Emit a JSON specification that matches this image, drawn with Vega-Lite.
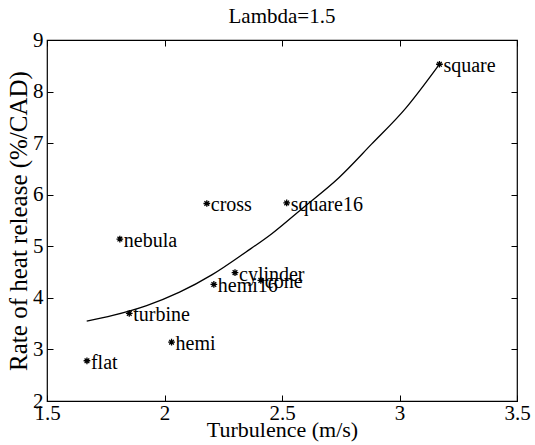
{
  "$schema": "https://vega.github.io/schema/vega-lite/v6.json",
  "autosize": "none",
  "padding": {"left": 47, "top": 40, "right": 18, "bottom": 44},
  "width": 470,
  "height": 361,
  "background": "white",
  "title": {"text": "Lambda=1.5", "font": "Liberation Serif", "fontSize": 21, "fontWeight": "normal", "color": "black", "offset": 2},
  "config": {
    "view": {"stroke": "black", "strokeWidth": 1.2},
    "axis": {"labelFont": "Liberation Serif", "titleFont": "Liberation Serif", "labelColor": "black", "titleColor": "black", "titleFontWeight": "normal", "domain": false, "grid": false, "tickColor": "black", "tickWidth": 1, "tickSize": -6, "labelFontSize": 21}
  },
  "datasets": {
    "pts": [
      {"name": "flat", "turb": 1.67, "rhr": 2.78},
      {"name": "turbine", "turb": 1.85, "rhr": 3.70},
      {"name": "hemi", "turb": 2.03, "rhr": 3.14},
      {"name": "nebula", "turb": 1.81, "rhr": 5.14},
      {"name": "cross", "turb": 2.18, "rhr": 5.83},
      {"name": "square16", "turb": 2.52, "rhr": 5.84},
      {"name": "hemi16", "turb": 2.21, "rhr": 4.26},
      {"name": "cylinder", "turb": 2.30, "rhr": 4.49},
      {"name": "cone", "turb": 2.41, "rhr": 4.34},
      {"name": "square", "turb": 3.17, "rhr": 8.53}
    ],
    "fit": [
      {"turb": 1.669, "rhr": 3.55},
      {"turb": 1.780, "rhr": 3.66},
      {"turb": 1.924, "rhr": 3.85},
      {"turb": 2.064, "rhr": 4.11},
      {"turb": 2.203, "rhr": 4.45},
      {"turb": 2.347, "rhr": 4.89},
      {"turb": 2.458, "rhr": 5.25},
      {"turb": 2.585, "rhr": 5.73},
      {"turb": 2.742, "rhr": 6.33},
      {"turb": 2.881, "rhr": 6.98},
      {"turb": 3.025, "rhr": 7.67},
      {"turb": 3.165, "rhr": 8.50}
    ]
  },
  "layer": [
    {
      "data": {"name": "fit"},
      "mark": {"type": "line", "color": "black", "strokeWidth": 1.3, "interpolate": "monotone"},
      "encoding": {
        "x": {"field": "turb", "type": "quantitative", "scale": {"domain": [1.5, 3.5], "nice": false, "zero": false},
              "axis": {"orient": "top", "labels": false, "title": null, "values": [1.5, 2, 2.5, 3, 3.5]}},
        "y": {"field": "rhr", "type": "quantitative", "scale": {"domain": [2, 9], "nice": false, "zero": false},
              "axis": {"orient": "right", "labels": false, "title": null, "values": [2, 3, 4, 5, 6, 7, 8, 9]}}
      }
    },
    {
      "data": {"name": "pts"},
      "mark": {"type": "point", "shape": "M-1,0L1,0M0,-1L0,1M-0.7,-0.7L0.7,0.7M-0.7,0.7L0.7,-0.7", "size": 45, "stroke": "black", "strokeWidth": 1.3, "filled": false, "opacity": 1},
      "encoding": {
        "x": {"field": "turb", "type": "quantitative",
              "axis": {"orient": "bottom", "title": "Turbulence (m/s)", "titleFontSize": 22, "values": [1.5, 2, 2.5, 3, 3.5], "format": "~g", "labelPadding": 7, "titlePadding": -4, "labelFlush": false}},
        "y": {"field": "rhr", "type": "quantitative",
              "axis": {"orient": "left", "title": "Rate of heat release (%/CAD)", "titleFontSize": 25, "values": [2, 3, 4, 5, 6, 7, 8, 9], "format": "~g", "labelPadding": 10, "titlePadding": 1}}
      }
    },
    {
      "data": {"name": "pts"},
      "mark": {"type": "text", "align": "left", "baseline": "middle", "dx": 4, "dy": 2, "font": "Liberation Serif", "fontSize": 20, "color": "black"},
      "encoding": {
        "x": {"field": "turb", "type": "quantitative", "axis": null},
        "y": {"field": "rhr", "type": "quantitative", "axis": null},
        "text": {"field": "name"}
      }
    }
  ],
  "resolve": {"axis": {"x": "independent", "y": "independent"}}
}
